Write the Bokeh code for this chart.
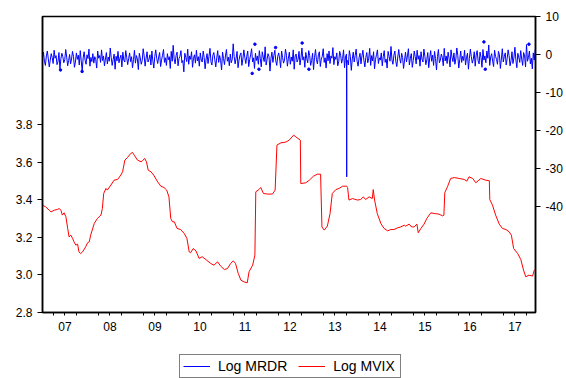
import numpy as np
from bokeh.plotting import figure
from bokeh.layouts import column
from bokeh.models import (Range1d, LinearAxis, FixedTicker, Legend, LegendItem,
                          PrintfTickFormatter)
from bokeh.embed import file_html
from bokeh.resources import INLINE

# ---------------- data ----------------
years = list(range(2007, 2018))
year_labels = ["07", "08", "09", "10", "11", "12", "13", "14", "15", "16", "17"]
left_ticks = [2.8, 3.0, 3.2, 3.4, 3.6, 3.8]
right_ticks = [10, 0, -10, -20, -30, -40]

# Log MVIX (left axis): date (decimal year), value
mvix_t = [2007.00, 2007.07, 2007.15, 2007.19, 2007.26, 2007.33, 2007.37, 2007.41, 2007.44, 2007.48,
          2007.52, 2007.56, 2007.59, 2007.63, 2007.67, 2007.70, 2007.74, 2007.78, 2007.81, 2007.85,
          2007.89, 2007.96, 2008.00, 2008.04, 2008.07, 2008.15, 2008.22, 2008.26, 2008.30, 2008.33,
          2008.36, 2008.41, 2008.44, 2008.52, 2008.59, 2008.67, 2008.74, 2008.78, 2008.83, 2008.89,
          2008.96, 2009.00, 2009.04, 2009.11, 2009.19, 2009.22, 2009.27, 2009.31, 2009.35, 2009.41,
          2009.47, 2009.56, 2009.63, 2009.70, 2009.76, 2009.81, 2009.85, 2009.89, 2009.93, 2009.99,
          2010.07, 2010.15, 2010.21, 2010.26, 2010.29, 2010.35, 2010.41, 2010.45, 2010.48, 2010.55,
          2010.63, 2010.74, 2010.81, 2010.89, 2010.96, 2011.04, 2011.11, 2011.18, 2011.24, 2011.29,
          2011.35, 2011.41, 2011.48, 2011.55, 2011.59, 2011.67, 2011.72, 2011.74, 2011.81, 2011.85,
          2011.91, 2012.00, 2012.11, 2012.17, 2012.21, 2012.30, 2012.41, 2012.48, 2012.58, 2012.63,
          2012.73, 2012.74, 2012.85, 2012.93, 2013.02, 2013.11, 2013.18, 2013.21, 2013.26, 2013.33,
          2013.39, 2013.44, 2013.52, 2013.59, 2013.67, 2013.76, 2013.78, 2013.81, 2013.89, 2014.00,
          2014.07, 2014.13, 2014.18, 2014.26, 2014.33, 2014.35, 2014.38, 2014.44, 2014.52, 2014.59,
          2014.67, 2014.74, 2014.81, 2014.89, 2014.96, 2015.04, 2015.07, 2015.15, 2015.20, 2015.26,
          2015.32, 2015.35, 2015.41, 2015.48, 2015.54, 2015.63, 2015.72, 2015.81, 2015.89, 2015.92,
          2015.94, 2016.00, 2016.07, 2016.15, 2016.26, 2016.37, 2016.43, 2016.48, 2016.56, 2016.63,
          2016.74, 2016.85, 2016.93, 2016.94, 2017.00, 2017.07, 2017.15, 2017.22, 2017.30, 2017.37,
          2017.42, 2017.47, 2017.56, 2017.63, 2017.69, 2017.74, 2017.81, 2017.89, 2017.93, 2017.95]
mvix_v = [3.372, 3.363, 3.345, 3.336, 3.345, 3.349, 3.354, 3.345, 3.319, 3.331,
          3.310, 3.248, 3.203, 3.212, 3.194, 3.177, 3.159, 3.164, 3.123, 3.114,
          3.123, 3.150, 3.171, 3.177, 3.212, 3.274, 3.301, 3.310, 3.319, 3.354,
          3.434, 3.461, 3.452, 3.479, 3.505, 3.509, 3.532, 3.550, 3.612, 3.626,
          3.647, 3.653, 3.638, 3.612, 3.603, 3.608, 3.621, 3.603, 3.558, 3.550,
          3.532, 3.496, 3.473, 3.466, 3.452, 3.416, 3.301, 3.283, 3.283, 3.248,
          3.242, 3.221, 3.194, 3.123, 3.118, 3.141, 3.128, 3.106, 3.088, 3.097,
          3.082, 3.061, 3.052, 3.070, 3.047, 3.029, 3.034, 3.061, 3.075, 3.061,
          3.008, 2.972, 2.963, 2.958, 3.017, 3.052, 3.106, 3.443, 3.455, 3.466,
          3.434, 3.431, 3.431, 3.452, 3.692, 3.704, 3.708, 3.718, 3.745, 3.736,
          3.718, 3.487, 3.491, 3.505, 3.526, 3.537, 3.537, 3.256, 3.239, 3.260,
          3.327, 3.434, 3.455, 3.461, 3.473, 3.473, 3.466, 3.399, 3.407, 3.399,
          3.402, 3.416, 3.402, 3.416, 3.407, 3.455, 3.399, 3.327, 3.274, 3.248,
          3.235, 3.242, 3.242, 3.251, 3.256, 3.265, 3.260, 3.271, 3.256, 3.256,
          3.271, 3.225, 3.248, 3.271, 3.301, 3.331, 3.327, 3.324, 3.315, 3.318,
          3.438, 3.470, 3.514, 3.519, 3.514, 3.509, 3.500, 3.523, 3.514, 3.491,
          3.514, 3.505, 3.502, 3.402, 3.372, 3.319, 3.271, 3.248, 3.242, 3.230,
          3.212, 3.141, 3.114, 3.082, 3.026, 2.990, 2.999, 2.994, 3.026, 3.026]

# Log MRDR (right axis): sampled returns, evenly spaced over the period
mrdr_start, mrdr_end = 2007.0, 2017.95
mrdr_v = [-0.9, 0.6, -1.8, -2.9, -0.4, 0.9, -1.2, -3.3, -1.5, 0.2, -0.8, -2.4, 1.1, -1.0, -0.3,
          -2.7, -1.9, 0.5, -3.8, -1.1, 0.3, -0.6, -2.2, -1.4, 1.3, -0.7, -3.0, -1.6, 0.0, -2.5,
          -1.2, 0.8, -0.5, -3.4, -2.0, 0.4, -1.3, -0.2, -2.8, 1.0, -1.7, -4.3, -0.9, 0.7, -1.5,
          -2.6, -0.1, -1.1, 1.4, -3.1, -0.8, -1.9, 0.2, -2.3, -0.6, -1.4, -3.6, 0.9, -1.0, -0.3,
          -2.1, 1.2, -1.6, -0.4, -3.0, -1.2, 0.5, -2.5, -0.7, -1.8, 1.7, -0.9, -2.9, -1.3, 0.1,
          -3.9, -0.5, -1.7, 0.8, -2.2, -1.0, -0.2, -3.3, 0.6, -1.5, -2.0, 1.0, -0.8, -2.7, -1.1,
          0.4, -1.9, -0.6, -3.5, -1.4, 1.1, -2.3, -0.3, -1.2, -4.0, 0.3, -0.9, -2.6, -1.6, 1.5,
          -0.4, -3.1, -1.0, 0.7, -2.0, -1.3, -0.1, -2.8, 0.9, -1.7, -3.6, -0.5, 1.2, -1.1, -2.4,
          -0.7, 0.5, -3.2, -1.5, -0.2, 1.3, -2.1, -0.9, -2.9, 0.2, -1.4, -0.6, -3.7, 0.8, -1.8,
          2.4, -1.2, -2.5, -0.3, 0.6, -3.0, -1.1, -0.5, 1.0, -2.2, -1.6, -4.6, 0.3, -0.8, -1.9,
          1.4, -2.6, -0.4, -1.3, 0.7, -3.4, -1.0, -0.1, -2.3, 1.1, -1.7, -0.6, -3.1, 0.4, -1.5,
          -2.0, 0.9, -0.8, -3.8, -1.2, 0.2, -2.4, -0.5, 1.6, -1.9, -2.8, -0.2, 0.5, -1.4, -3.3,
          -0.9, 1.0, -2.1, -0.3, -1.6, -4.1, 0.6, -1.1, -2.7, -0.4, 1.3, -1.8, -0.7, -3.0, 0.1,
          -2.2, -1.3, 2.8, -0.6, -2.5, -1.0, 0.8, -3.5, -1.5, -0.2, 0.4, -2.9, -1.2, 1.2, -0.8,
          -2.4, -0.5, 0.9, -3.2, -1.4, -0.1, 1.5, -2.0, -0.9, -3.7, 0.3, -1.6, -0.4, -2.6, 1.0,
          -1.1, -3.3, 0.7, -0.7, -1.9, 2.0, -2.8, -1.3, 0.2, -0.6, -4.4, -1.0, 0.6, -2.1, -0.3,
          1.1, -1.7, -2.9, -0.5, 0.4, -1.2, -3.5, 0.9, -0.8, -2.3, -1.5, 1.4, -0.2, -3.1, -1.0,
          0.6, -2.6, -0.7, -1.8, 1.2, -3.9, -0.4, 0.1, -2.0, -1.3, 0.8, -2.8, -0.9, 1.7, -1.5,
          -0.6, -3.4, 0.5, -1.1, -2.2, 1.0, -0.3, -2.9, -1.6, 0.3, -4.0, -0.8, 1.3, -1.4, -2.5,
          -0.1, 0.7, -3.2, -1.2, -0.5, 1.5, -2.1, -0.9, -3.6, 0.2, -1.7, 0.9, -2.4, -0.4, -1.0,
          1.8, -2.7, -0.6, -1.3, 0.4, -3.0, -1.9, 0.8, -0.2, -2.3, -1.1, 1.2, -3.5, -0.7, 0.1,
          -1.6, -2.8, 1.0, -0.5, -4.2, -1.2, 0.6, -2.0, -0.3, 1.4, -1.8, -3.1, -0.9, 0.3, -2.5,
          -0.4, 1.1, -1.5, -3.3, -0.8, 0.5, -2.2, -1.0, 1.6, -2.9, -0.3, -1.7, 0.7, -3.8, -1.3,
          -0.1, 1.2, -2.4, -0.9, -1.5, 0.4, -3.0, -0.6, 1.0, -2.1, -1.2, -3.6, 0.8, -0.5, -1.8,
          2.1, -1.4, -2.6, -0.2, 0.9, -1.9, -3.2, -0.7, 1.3, -1.1, -2.3, 0.3, -0.8, -3.7, -1.5,
          0.6, -2.0, -0.4, 1.5, -2.8, -1.0, 0.2, -3.4, -1.6, 0.9, -0.6, -2.5, 1.1, -1.3, -0.3,
          -3.1, 0.7, -1.2, -2.0, 1.4, -0.5, -2.7, -1.4, 0.5, -3.5, -0.9, 1.0, -1.8, -0.2, -2.9,
          0.8, -1.1, -4.1, -0.6, 1.3, -2.2, -1.5, 0.1, -0.8, -3.0, 1.6, -1.7, -0.4, -2.4, 0.6,
          -1.0, -3.3, 1.2, -0.7, -1.9, 0.4, -2.6, -1.2, 1.7, -0.3, -3.6, -1.4, 0.9, -2.1, -0.5,
          -1.6, 1.1, -2.8, -0.9, 0.3, -3.9, -1.1, 1.4, -0.6, -2.3, -1.3, 0.7, -3.1, -0.2, 1.0,
          -1.7, -2.5, 0.6, -0.8, -3.4, 1.3, -1.5, -0.4, -2.2, 0.9, -1.0, 2.5, -2.9, -0.7, 0.2,
          -1.8, -3.2, 1.1, -0.5, -1.3, -2.6, 0.8, -0.1, -3.7, -1.2, 1.5, -2.0, -0.6, 0.4, -2.8,
          -1.1, 1.2, -0.3, -3.0, -1.6, 0.7, -2.4, -0.9, 1.9, -1.4, -3.5, 0.3, -0.7, -2.1, 1.0,
          -1.2, -2.9, 0.5, -0.4, -3.3, 2.6, -1.8, -0.8, 0.9, -2.5, -1.0, -3.8, 0.4, -1.5, 1.3]
spike_t, spike_v = 2013.76, -32.3
# isolated observations (drawn as dots)
dot_t = [2007.40, 2007.88, 2011.66, 2011.72, 2011.81, 2012.18, 2012.77, 2012.92, 2016.81, 2016.84, 2017.81]
dot_v = [-4.1, -4.5, -5.0, 2.7, -3.9, 1.8, 3.0, -3.9, 3.3, -3.9, 2.7]

# build the blue series (insert the spike as a one-day drop)
mrdr_t = list(np.linspace(mrdr_start, mrdr_end, len(mrdr_v)))
k = int(np.searchsorted(mrdr_t, spike_t))
b_t = mrdr_t[:k] + [spike_t - 0.003, spike_t, spike_t + 0.003] + mrdr_t[k:]
b_v = mrdr_v[:k] + [mrdr_v[k - 1], spike_v, mrdr_v[k]] + mrdr_v[k:]

BLUE, RED = "#0000FF", "#FF0000"
FONT = "Liberation Sans"

# ---------------- main figure ----------------
p = figure(width=566, height=345, output_backend="svg", toolbar_location=None,
           x_range=Range1d(2007.0, 2017.956), y_range=Range1d(2.8, 4.377),
           x_axis_location=None, y_axis_location=None,
           min_border_left=42, min_border_right=31, min_border_top=16, min_border_bottom=33)
p.extra_y_ranges = {"right": Range1d(-68.06, 10.0)}
p.xgrid.grid_line_color = None
p.ygrid.grid_line_color = None
p.outline_line_color = "black"
p.outline_line_width = 1.5
p.background_fill_color = "white"
p.border_fill_color = "white"

p.line(b_t, b_v, y_range_name="right", line_color=BLUE, line_width=1)
p.scatter(dot_t, dot_v, y_range_name="right", size=2.5, color=BLUE)
p.line(mvix_t, mvix_v, line_color=RED, line_width=1)

common = dict(axis_line_width=1.5, axis_line_color="black",
              major_tick_line_color="black", minor_tick_line_color="black",
              major_tick_in=0, minor_tick_in=0,
              major_label_text_font=FONT, major_label_text_font_size="12px",
              major_label_text_color="black")

yl = LinearAxis(ticker=FixedTicker(ticks=left_ticks, minor_ticks=[]),
                formatter=PrintfTickFormatter(format="%.1f"),
                major_tick_out=5, minor_tick_out=0, major_label_standoff=5, **common)
p.add_layout(yl, "left")

yr = LinearAxis(y_range_name="right", ticker=FixedTicker(ticks=right_ticks, minor_ticks=[]),
                formatter=PrintfTickFormatter(format="%d"),
                major_tick_out=5, minor_tick_out=0, major_label_standoff=5, **common)
p.add_layout(yr, "right")

# bottom axis: labels at mid-year, short quarter ticks
mid_years = [y + 0.5 for y in years]
quarters = [y + q for y in years for q in (0.25, 0.75)]
xa = LinearAxis(ticker=FixedTicker(ticks=mid_years, minor_ticks=quarters),
                major_label_overrides={m: lab for m, lab in zip(mid_years, year_labels)},
                major_tick_out=3, minor_tick_out=3, major_label_standoff=6, **common)
p.add_layout(xa, "below")

# longer ticks at the year boundaries, drawn on the frame's bottom edge
xb = LinearAxis(fixed_location=2.8, ticker=FixedTicker(ticks=[], minor_ticks=years[1:]),
                major_tick_out=0, minor_tick_out=6, minor_tick_in=0, major_tick_in=0,
                axis_line_color=None, minor_tick_line_color="black", major_label_standoff=0)
p.add_layout(xb, "below")

# ---------------- legend strip ----------------
lf = figure(width=566, height=33, output_backend="svg", toolbar_location=None,
            x_range=Range1d(0, 1), y_range=Range1d(0, 1),
            x_axis_location=None, y_axis_location=None, min_border=0)
lf.xgrid.grid_line_color = None
lf.ygrid.grid_line_color = None
lf.outline_line_color = None
# series renderers (their data lie outside this strip's ranges; used for legend swatches)
lb = lf.line(b_t, b_v, line_color=BLUE, line_width=1)
lr = lf.line(mvix_t, mvix_v, line_color=RED, line_width=1)
legend = Legend(items=[LegendItem(label="Log MRDR", renderers=[lb]),
                       LegendItem(label="Log MVIX", renderers=[lr])],
                location=(137, 0), orientation="horizontal",
                border_line_color="black", border_line_width=1,
                background_fill_color="white", background_fill_alpha=1,
                padding=3, spacing=11, margin=0,
                glyph_width=27, glyph_height=12, label_height=12, label_width=64,
                label_standoff=8,
                label_text_font=FONT, label_text_font_size="14px", label_text_color="black")
lf.add_layout(legend)

layout = column(p, lf, spacing=0)
open("out.html", "w").write(file_html(layout, INLINE))
